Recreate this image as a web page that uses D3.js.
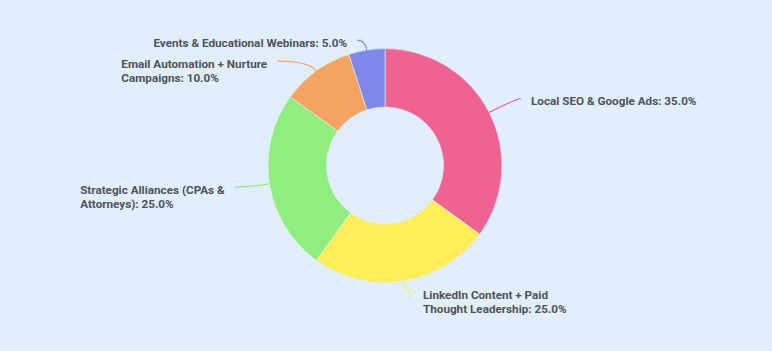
<!DOCTYPE html>
<html>
<head>
<meta charset="utf-8">
<script src="https://cdn.jsdelivr.net/npm/d3@7"></script>
<style>
  html, body { margin: 0; padding: 0; background: #e1eefe; }
  svg { display: block; }
  .lbl { font-family: Roboto, "Noto Sans", sans-serif; font-size: 11.7px; font-weight: 700; fill: #505258; }
</style>
</head>
<body>
<svg id="chart"></svg>
<script>
// chart data
var categories = ["Local SEO & Google Ads", "LinkedIn Content + Paid Thought Leadership",
  "Strategic Alliances (CPAs & Attorneys)", "Email Automation + Nurture Campaigns",
  "Events & Educational Webinars"];
var shares = [35, 25, 25, 10, 5];
// how the labels are broken into lines
var labelLines = [
  ["Local SEO & Google Ads: 35.0%"],
  ["LinkedIn Content + Paid", "Thought Leadership: 25.0%"],
  ["Strategic Alliances (CPAs &", "Attorneys): 25.0%"],
  ["Email Automation + Nurture", "Campaigns: 10.0%"],
  ["Events & Educational Webinars: 5.0%"]
];
var colors = ["#f06292", "#ffee58", "#90ee7e", "#f4a460", "#7f87ea"];

// label line lengths (radial part, horizontal part) per slice
var len1 = [30, 11, 20, 12, 10];
var len2 = [5, 8, 15, 32, 8];

var width = 772, height = 351;
var cx = 385, cy = 165.5, outerR = 117, innerR = 58.5;

var svg = d3.select("#chart").attr("width", width).attr("height", height);
var g = svg.append("g").attr("transform", "translate(" + cx + "," + cy + ")");

var pie = d3.pie().sort(null).value(function(d) { return d; });
var arcs = pie(shares);
var arc = d3.arc().innerRadius(innerR).outerRadius(outerR);

g.selectAll("path.slice")
    .data(arcs)
  .enter().append("path")
    .attr("class", "slice")
    .attr("d", arc)
    .attr("fill", function(d, i) { return colors[i]; })
    .attr("stroke", "#e1eefe")
    .attr("stroke-width", 0.6);

arcs.forEach(function(d, i) {
  var a = (d.startAngle + d.endAngle) / 2;
  var sx = Math.sin(a), sy = -Math.cos(a);
  var p0 = [outerR * sx, outerR * sy];
  var p1 = [(outerR + len1[i]) * sx, (outerR + len1[i]) * sy];
  var right = sx >= 0;
  var p2 = [p1[0] + (right ? len2[i] : -len2[i]), p1[1]];

  g.append("path")
      .attr("d", "M" + p0 + "Q" + p1 + " " + p2)
      .attr("fill", "none")
      .attr("stroke", colors[i])
      .attr("stroke-width", 1.2);

  var t = g.append("text")
      .attr("class", "lbl")
      .attr("y", p2[1] + 2.5);
  var spans = [];
  labelLines[i].forEach(function(line, j) {
    spans.push(t.append("tspan")
        .attr("dy", j === 0 ? "0.35em" : 14)
        .text(line));
  });
  // block is left aligned, placed beside the line end
  var w = d3.max(spans, function(s) { return s.node().getComputedTextLength(); });
  var x0 = right ? p2[0] + 10 : p2[0] - 10 - w;
  spans.forEach(function(s) { s.attr("x", x0); });
});
</script>
</body>
</html>
